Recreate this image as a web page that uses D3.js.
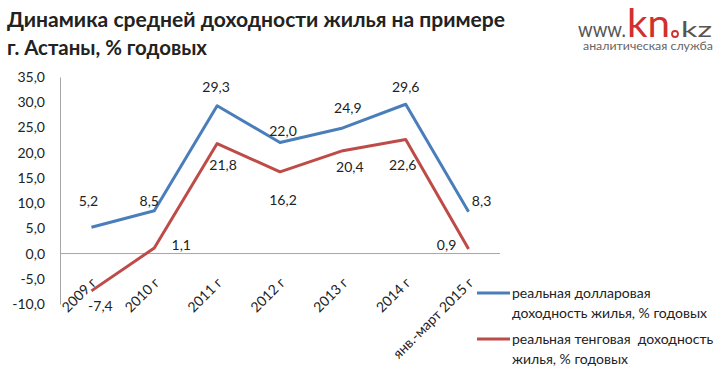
<!DOCTYPE html>
<html><head><meta charset="utf-8">
<script src="https://cdn.jsdelivr.net/npm/d3@7"></script>
<style>
body{margin:0;background:#fff;}
svg{display:block;}
text{font-family:Lato,"Open Sans",sans-serif;}
</style></head>
<body><svg id="c" width="720" height="369"></svg>
<script>
const categories = ["2009 г","2010 г","2011 г","2012 г","2013 г","2014 г","янв.-март 2015 г"];
const dollarYield = [5.2, 8.5, 29.3, 22.0, 24.9, 29.6, 8.3];
const tengeYield = [-7.4, 1.1, 21.8, 16.2, 20.4, 22.6, 0.9];
const yTicks = [-10,-5,0,5,10,15,20,25,30,35];
const seriesNames = ["реальная долларовая доходность жилья, % годовых","реальная тенговая  доходность жилья, % годовых"];
const titleLines = ["Динамика средней доходности жилья на примере","г. Астаны, % годовых"];

// label placement offsets (style)
const dollarLabelOff = [[-3,-26],[-5,-10],[-1,-19],[3,-11],[5,-20],[0,-17],[13,-11]];
const tengeLabelOff = [[9,15],[27,-3],[6,22],[3,28],[7,16],[-3,26],[-22,-4]];

const svg = d3.select("#c");
const fmt = v => d3.format(".1f")(v).replace(".", ",").replace("\u2212", "-");

const x = d3.scaleBand().domain(categories).range([60,500]);
const cx = c => x(c) + x.bandwidth()/2;
const y = d3.scaleLinear().domain([-10,35]).range([304,77]);

// title
svg.selectAll("text.title").data(titleLines).join("text")
  .attr("x",7).attr("y",(d,i)=>27+i*28)
  .attr("font-size",21).attr("font-weight","bold").attr("fill","#222")
  .attr("textLength",(d,i)=>i===0?498:200).attr("lengthAdjust","spacingAndGlyphs")
  .text(d=>d);

// logo
const logo = svg.append("g");
logo.append("text").attr("x",578).attr("y",37).attr("font-size",22).attr("fill","#555")
  .attr("textLength",48).attr("lengthAdjust","spacingAndGlyphs").text("www.");
logo.append("text").attr("x",627).attr("y",37).attr("font-size",38).attr("fill","#d0302e")
  .attr("textLength",43).attr("lengthAdjust","spacingAndGlyphs").text("kn");
logo.append("circle").attr("cx",675).attr("cy",34).attr("r",3).attr("fill","none").attr("stroke","#d0302e").attr("stroke-width",1.8);
logo.append("text").attr("x",681).attr("y",37).attr("font-size",21).attr("fill","#555")
  .attr("textLength",31).attr("lengthAdjust","spacingAndGlyphs").text("kz");
logo.append("text").attr("x",583).attr("y",50).attr("font-size",10.5).attr("fill","#666")
  .attr("textLength",130).attr("lengthAdjust","spacingAndGlyphs").text("аналитическая служба");

// y axis
const yAxis = d3.axisLeft(y).tickValues(yTicks).tickSize(0).tickPadding(15).tickFormat(fmt);
const gy = svg.append("g").attr("transform","translate(60,0)").call(yAxis);
gy.select(".domain").attr("stroke","#a6a6a6").attr("stroke-width",1);
gy.selectAll("text").attr("font-size",14).attr("fill","#222").attr("font-family","Lato,sans-serif");

// zero line
svg.append("line").attr("x1",60).attr("x2",500).attr("y1",y(0)).attr("y2",y(0))
  .attr("stroke","#a6a6a6").attr("stroke-width",1);

// category labels
svg.selectAll("text.cat").data(categories).join("text").attr("class","cat")
  .attr("transform",d=>`translate(${cx(d)+6},${y(0)+30}) rotate(-45)`)
  .attr("text-anchor","end").attr("font-size",14).attr("fill","#222").text(d=>d);

// lines
const line = d3.line().x((d,i)=>cx(categories[i])).y(d=>y(d));
const colors = ["#4a7ebb","#be4b48"];
[dollarYield, tengeYield].forEach((s,k)=>{
  svg.append("path").datum(s).attr("d",line).attr("fill","none")
    .attr("stroke",colors[k]).attr("stroke-width",3).attr("stroke-linejoin","round");
});

// data labels
[[dollarYield,dollarLabelOff],[tengeYield,tengeLabelOff]].forEach(([s,off])=>{
  svg.append("g").selectAll("text").data(s).join("text")
    .attr("x",(d,i)=>cx(categories[i])+off[i][0])
    .attr("y",(d,i)=>y(d)+off[i][1])
    .attr("dy","0.35em").attr("text-anchor","middle")
    .attr("font-size",14).attr("fill","#222").text(d=>fmt(d));
});

// legend
const leg = svg.append("g");
const legLines = [["реальная долларовая","доходность жилья, % годовых"],["реальная тенговая  доходность","жилья, % годовых"]];
[0,1].forEach(k=>{
  const yy = 293 + k*46;
  leg.append("line").attr("x1",477).attr("x2",510).attr("y1",yy).attr("y2",yy)
    .attr("stroke",colors[k]).attr("stroke-width",3);
  legLines[k].forEach((t,j)=>{
    leg.append("text").attr("x",512).attr("y",yy+j*20).attr("dy","0.35em")
      .attr("font-size",14).attr("fill","#222").style("white-space","pre").text(t);
  });
});
</script></body></html>
